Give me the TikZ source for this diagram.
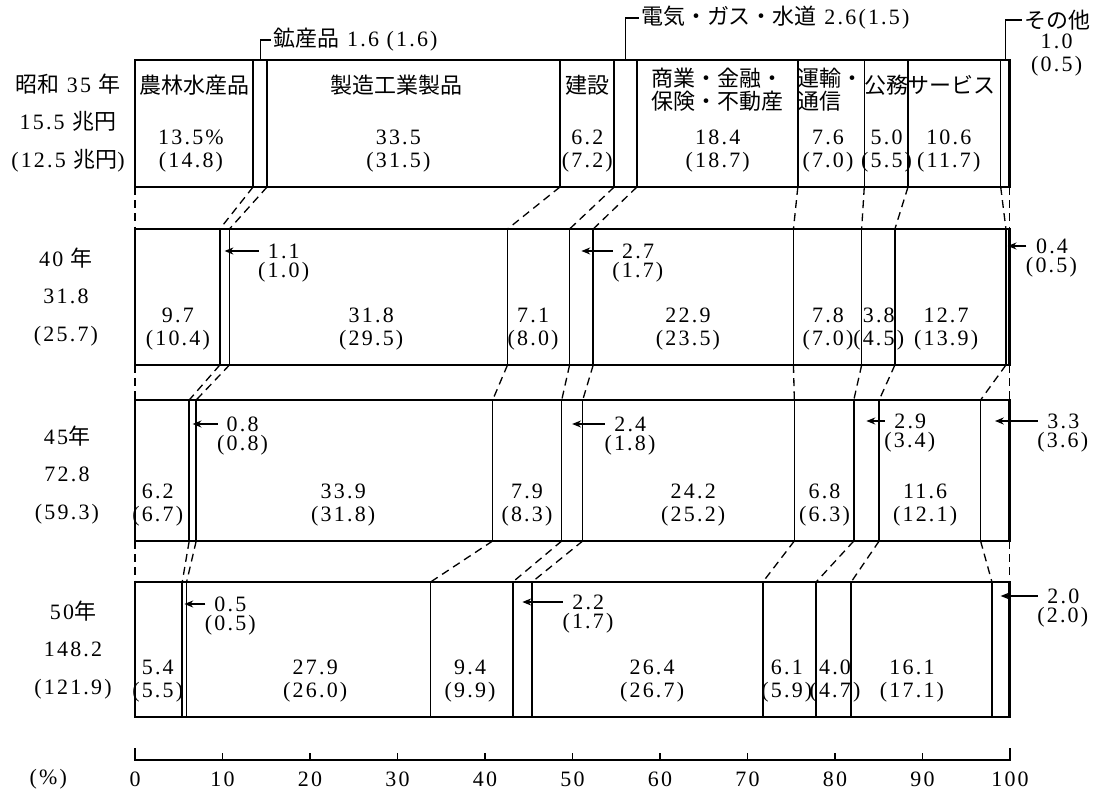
\documentclass[tikz,border=0pt]{standalone}
\usepackage{fontspec}
\setmainfont{Liberation Serif}[LetterSpace=10]
\newfontfamily\jp{Noto Sans CJK JP}
\usetikzlibrary{positioning,arrows.meta}

\begin{document}
\begin{tikzpicture}[x=0.02cm,y=-0.02cm,font=\fontsize{12.5}{13}\selectfont,
		frame/.style={line width=1.4pt},
		divider/.style={line width=0.85pt},
		link/.style={line width=0.75pt,dash pattern=on 4.5pt off 3pt},
		callout/.style={line width=0.6pt},
		pointer/.style={line width=0.6pt,shorten <=4pt,-{Stealth[length=5pt,width=4pt]}},
		val/.style={align=center,inner sep=1pt},
		cat/.style={align=center,inner sep=1pt,font=\fontsize{12.5}{13}\selectfont\jp},
		yearlabel/.style={align=center,inner sep=1pt}]
	\useasboundingbox (0,0) rectangle (1095,790);
	\node[yearlabel] (year35) at (68,123) {{\jp 昭和} 35 {\jp 年}\\[8.5pt]15.5 {\jp 兆円}\\[8.5pt](12.5 {\jp 兆円})};
	\node[yearlabel] (year40) at (66,297) {40 {\jp 年}\\[8.5pt]31.8\\[8.5pt](25.7)};
	\node[yearlabel] (year45) at (67,475) {45{\jp 年}\\[8.5pt]72.8\\[8.5pt](59.3)};
	\node[yearlabel] (year50) at (73,650) {50{\jp 年}\\[8.5pt]148.2\\[8.5pt](121.9)};
	\begin{scope}[shift={(135,0)},xscale=8.75]
		\foreach \row/\ya/\yb/\cuts in {
			1/60/187/{0,13.5,15.1,48.6,54.8,57.4,75.8,83.4,88.4,99.0,100},
			2/229/365/{0,9.7,10.8,42.6,49.7,52.4,75.3,83.1,86.9,99.6,100},
			3/400/541/{0,6.2,7.0,40.9,48.8,51.2,75.4,82.2,85.1,96.7,100},
			4/582/717/{0,5.4,5.9,33.8,43.2,45.4,71.8,77.9,81.9,98.0,100}}{
			\foreach \p [count=\i, remember=\p as \q (initially 0)] in \cuts {
				\coordinate (t\row-\i) at (\p,\ya);
				\coordinate (b\row-\i) at (\p,\yb);
				\coordinate (m\row-\i) at ({(\p+\q)/2},\ya);
				\draw[divider] (t\row-\i) -- (b\row-\i);
			}
			\draw[frame] (t\row-1) rectangle (b\row-11);
		}
		\foreach \row [evaluate=\row as \nxt using int(\row+1)] in {1,2,3}
			\foreach \i in {1,...,11}
				\draw[link] (b\row-\i) -- (t\nxt-\i);

		\foreach \x/\s [count=\k] in {6.75/農林水産品,29.9/製造工業製品,51.7/建設,85.9/公務,93.3/サービス}
			\node[cat] (cat\k) at (\x,85) {\s};
		\node[cat] (cat6) at (66.6,90) {商業・金融・\\保険・不動産};
		\node[cat,align=left] (cat7) at (79.5,90) {運輸・\\通信};

		\foreach \row/\y/\items in {
			1/151/{6.4/13.5\%/(14.8),30.1/33.5/(31.5),51.7/6.2/(7.2),66.6/18.4/(18.7),79.2/7.6/(7.0),85.9/5.0/(5.5),93.0/10.6/(11.7)},
			2/329/{4.9/9.7/(10.4),27.0/31.8/(29.5),45.5/7.1/(8.0),63.2/22.9/(23.5),79.2/7.8/(7.0),85.0/3.8/(4.5),92.7/12.7/(13.9)},
			3/505/{2.6/6.2/(6.7),23.8/33.9/(31.8),44.8/7.9/(8.3),63.8/24.2/(25.2),78.8/6.8/(6.3),90.3/11.6/(12.1)},
			4/681/{2.6/5.4/(5.5),20.6/27.9/(26.0),38.3/9.4/(9.9),59.1/26.4/(26.7),74.5/6.1/(5.9),80.0/4.0/(4.7),88.8/16.1/(17.1)}}
			\foreach \x/\va/\vb [count=\k] in \items
				\node[val] (v\row-\k) at (\x,\y) {\va\\\vb};

		\foreach \row/\x/\y/\va/\vb/\seg in {
			2/17.0/251/1.1/(1.0)/3, 2/57.5/251/2.7/(1.7)/6, 2/104.8/246/0.4/(0.5)/11,
			3/12.3/424/0.8/(0.8)/3, 3/56.6/424/2.4/(1.8)/6, 3/88.6/421/2.9/(3.4)/9, 3/106.1/421/3.3/(3.6)/11,
			4/10.9/604/0.5/(0.5)/3, 4/51.8/602/2.2/(1.7)/6, 4/106.1/596/2.0/(2.0)/11}{
			\node[val] (c\row-\seg) at (\x,\y) {\va};
			\node[val,below=0pt of c\row-\seg] (d\row-\seg) {\vb};
			\draw[pointer] (c\row-\seg.west) -- (c\row-\seg.west -| m\row-\seg);
		}

		\node[val,anchor=west] (mining) at (15.6,40) {{\jp 鉱産品} 1.6 (1.6)};
		\draw[callout] (m1-3) |- (mining.west);
		\node[val,anchor=west] (utility) at (57.6,18) {{\jp 電気・ガス・水道} 2.6(1.5)};
		\draw[callout] (m1-6) |- (utility.west);
		\node[cat] (other) at (105.4,20) {その他};
		\node[val,below=0pt of other] (otherval) {1.0\\(0.5)};
		\draw[callout] (m1-11) |- (other.west);

		\draw[divider] (0,748) |- (100,760) -- (100,748);
		\foreach \v in {10,20,...,90}
			\draw[divider] (\v,760) -- (\v,753);
		\foreach \v [count=\k] in {0,10,...,100}
			\node[val] (tick\k) at (\v,779) {\v};
		\node[val] (pct) at (-9.9,779) {(\%)};
	\end{scope}
\end{tikzpicture}
\end{document}
